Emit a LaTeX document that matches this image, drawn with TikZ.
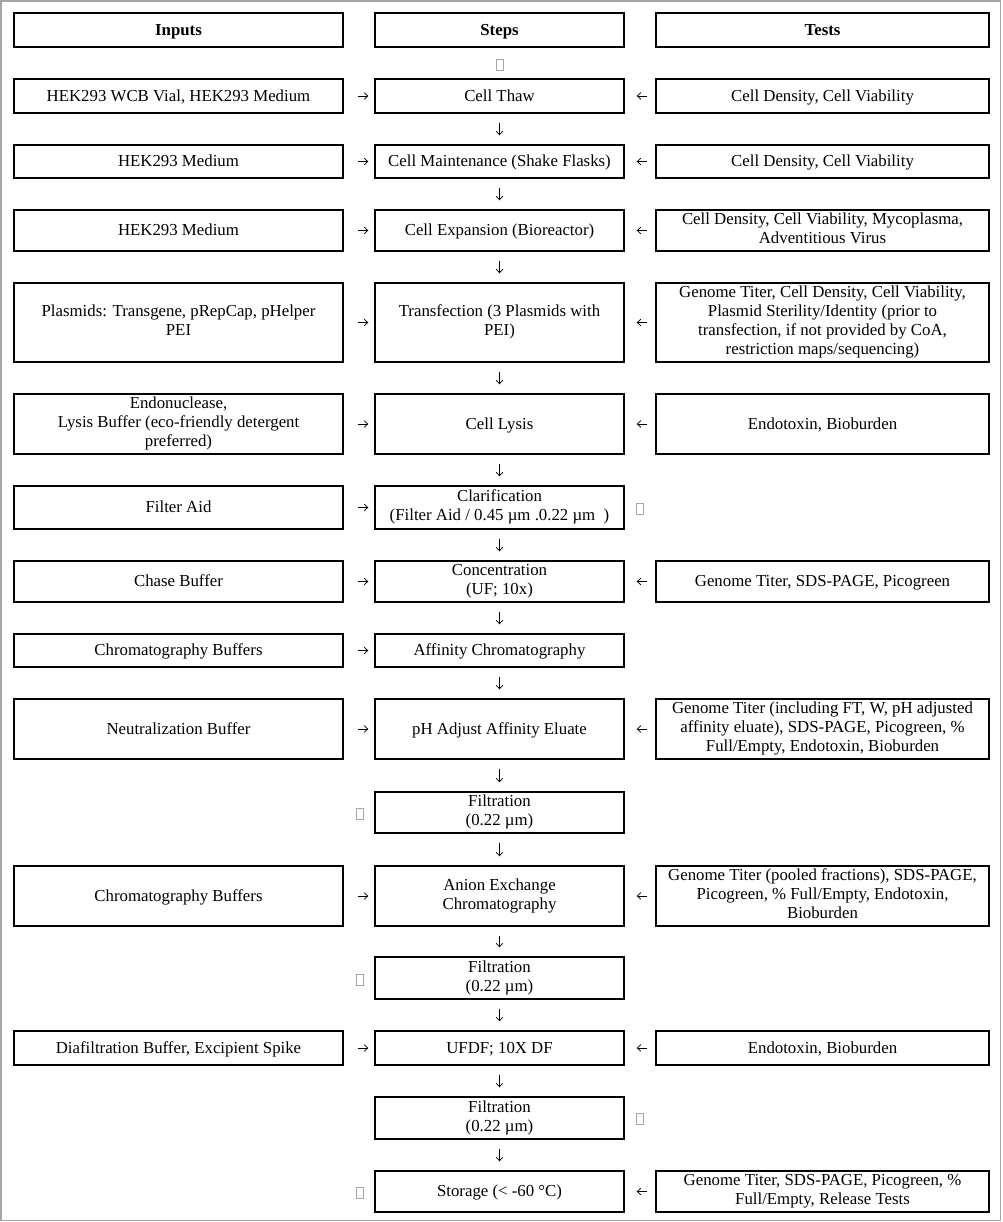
\documentclass[tikz,border=0pt]{standalone}
\usepackage{fontspec}
\setmainfont{Liberation Serif}
\usetikzlibrary{arrows.meta}
\newcommand\rowstrut{\rule[-4.2pt]{0pt}{19pt}}
\tikzset{
  box/.style={draw, line width=1.4pt, align=center, inner sep=2pt, font=\fontsize{16.8}{19}\selectfont,
    execute at begin node=\rowstrut, execute at end node=\rowstrut},
  inbox/.style={box, minimum width=329pt},
  stepbox/.style={box, minimum width=249pt},
  testbox/.style={box, minimum width=333pt},
  nochar/.style={draw=gray!70, line width=0.6pt, minimum width=7pt, minimum height=11pt, inner sep=0pt},
  flow/.style={line width=0.75pt, -{Straight Barb[length=3.5pt,width=6.5pt]}},
  fromin/.style={flow, shorten <=14pt, shorten >=6pt},
  fromtest/.style={flow, shorten <=8pt, shorten >=12pt},
  down/.style={flow, shorten <=9pt, shorten >=9pt},
}
\begin{document}
\begin{tikzpicture}[x=1pt, y=-1pt]
\useasboundingbox (0,0) rectangle (1002,1222);
\draw[gray!70, line width=1.5pt] (1,1) rectangle (1000.5,1220.5);

% headers
\node[inbox, minimum height=34pt] (inH) at (178.5,30) {\textbf{Inputs}};
\node[stepbox, minimum height=34pt] (sH) at (499.5,30) {\textbf{Steps}};
\node[testbox, minimum height=34pt] (tH) at (822.5,30) {\textbf{Tests}};
\node[nochar] (g0) at (500,65) {};

% inputs
\node[inbox, minimum height=34pt] (in1) at (178.5,96) {HEK293 WCB Vial, HEK293 Medium};
\node[inbox, minimum height=33pt] (in2) at (178.5,161.5) {HEK293 Medium};
\node[inbox, minimum height=41pt] (in3) at (178.5,230.5) {HEK293 Medium};
\node[inbox, minimum height=79pt] (in4) at (178.5,322.5) {Plasmids: Transgene, pRepCap, pHelper\\PEI};
\node[inbox, minimum height=60pt] (in5) at (178.5,424) {Endonuclease,\\Lysis Buffer (eco-friendly detergent\\preferred)};
\node[inbox, minimum height=43pt] (in6) at (178.5,507.5) {Filter Aid};
\node[inbox, minimum height=41pt] (in7) at (178.5,581.5) {Chase Buffer};
\node[inbox, minimum height=33pt] (in8) at (178.5,650.5) {Chromatography Buffers};
\node[inbox, minimum height=60pt] (in9) at (178.5,729) {Neutralization Buffer};
\node[inbox, minimum height=60pt] (in11) at (178.5,896) {Chromatography Buffers};
\node[inbox, minimum height=34pt] (in13) at (178.5,1048) {Diafiltration Buffer, Excipient Spike};

% steps
\node[stepbox, minimum height=34pt] (s1) at (499.5,96) {Cell Thaw};
\node[stepbox, minimum height=33pt] (s2) at (499.5,161.5) {Cell Maintenance (Shake Flasks)};
\node[stepbox, minimum height=41pt] (s3) at (499.5,230.5) {Cell Expansion (Bioreactor)};
\node[stepbox, minimum height=79pt] (s4) at (499.5,322.5) {Transfection (3 Plasmids with\\PEI)};
\node[stepbox, minimum height=60pt] (s5) at (499.5,424) {Cell Lysis};
\node[stepbox, minimum height=43pt] (s6) at (499.5,507.5) {Clarification\\(Filter Aid / 0.45 µm .0.22 µm~~)};
\node[stepbox, minimum height=41pt] (s7) at (499.5,581.5) {Concentration\\(UF; 10x)};
\node[stepbox, minimum height=33pt] (s8) at (499.5,650.5) {Affinity Chromatography};
\node[stepbox, minimum height=60pt] (s9) at (499.5,729) {pH Adjust Affinity Eluate};
\node[stepbox, minimum height=41pt] (s10) at (499.5,812.5) {Filtration\\(0.22 µm)};
\node[stepbox, minimum height=60pt] (s11) at (499.5,896) {Anion Exchange\\Chromatography};
\node[stepbox, minimum height=42pt] (s12) at (499.5,978) {Filtration\\(0.22 µm)};
\node[stepbox, minimum height=34pt] (s13) at (499.5,1048) {UFDF; 10X DF};
\node[stepbox, minimum height=42pt] (s14) at (499.5,1118) {Filtration\\(0.22 µm)};
\node[stepbox, minimum height=41pt] (s15) at (499.5,1191.5) {Storage (< -60 °C)};

% tests
\node[testbox, minimum height=34pt] (t1) at (822.5,96) {Cell Density, Cell Viability};
\node[testbox, minimum height=33pt] (t2) at (822.5,161.5) {Cell Density, Cell Viability};
\node[testbox, minimum height=41pt] (t3) at (822.5,230.5) {Cell Density, Cell Viability, Mycoplasma,\\Adventitious Virus};
\node[testbox, minimum height=79pt] (t4) at (822.5,322.5) {Genome Titer, Cell Density, Cell Viability,\\Plasmid Sterility/Identity (prior to\\transfection, if not provided by CoA,\\restriction maps/sequencing)};
\node[testbox, minimum height=60pt] (t5) at (822.5,424) {Endotoxin, Bioburden};
\node[testbox, minimum height=41pt] (t7) at (822.5,581.5) {Genome Titer, SDS-PAGE, Picogreen};
\node[testbox, minimum height=60pt] (t9) at (822.5,729) {Genome Titer (including FT, W, pH adjusted\\affinity eluate), SDS-PAGE, Picogreen, \%\\Full/Empty, Endotoxin, Bioburden};
\node[testbox, minimum height=60pt] (t11) at (822.5,896) {Genome Titer (pooled fractions), SDS-PAGE,\\Picogreen, \% Full/Empty, Endotoxin,\\Bioburden};
\node[testbox, minimum height=34pt] (t13) at (822.5,1048) {Endotoxin, Bioburden};
\node[testbox, minimum height=41pt] (t15) at (822.5,1191.5) {Genome Titer, SDS-PAGE, Picogreen, \%\\Full/Empty, Release Tests};

% empty glyph boxes
\node[nochar] (g6) at (640,509) {};
\node[nochar] (g10) at (360,814) {};
\node[nochar] (g12) at (360,980) {};
\node[nochar] (g14) at (640,1119) {};
\node[nochar] (g15) at (360,1193) {};

% inputs into steps
\draw[fromin] (in1) -- (s1);
\draw[fromin] (in2) -- (s2);
\draw[fromin] (in3) -- (s3);
\draw[fromin] (in4) -- (s4);
\draw[fromin] (in5) -- (s5);
\draw[fromin] (in6) -- (s6);
\draw[fromin] (in7) -- (s7);
\draw[fromin] (in8) -- (s8);
\draw[fromin] (in9) -- (s9);
\draw[fromin] (in11) -- (s11);
\draw[fromin] (in13) -- (s13);

% tests onto steps
\draw[fromtest] (t1) -- (s1);
\draw[fromtest] (t2) -- (s2);
\draw[fromtest] (t3) -- (s3);
\draw[fromtest] (t4) -- (s4);
\draw[fromtest] (t5) -- (s5);
\draw[fromtest] (t7) -- (s7);
\draw[fromtest] (t9) -- (s9);
\draw[fromtest] (t11) -- (s11);
\draw[fromtest] (t13) -- (s13);
\draw[fromtest] (t15) -- (s15);

% step to step
\draw[down] (s1) -- (s2);
\draw[down] (s2) -- (s3);
\draw[down] (s3) -- (s4);
\draw[down] (s4) -- (s5);
\draw[down] (s5) -- (s6);
\draw[down] (s6) -- (s7);
\draw[down] (s7) -- (s8);
\draw[down] (s8) -- (s9);
\draw[down] (s9) -- (s10);
\draw[down] (s10) -- (s11);
\draw[down] (s11) -- (s12);
\draw[down] (s12) -- (s13);
\draw[down] (s13) -- (s14);
\draw[down] (s14) -- (s15);
\end{tikzpicture}
\end{document}
